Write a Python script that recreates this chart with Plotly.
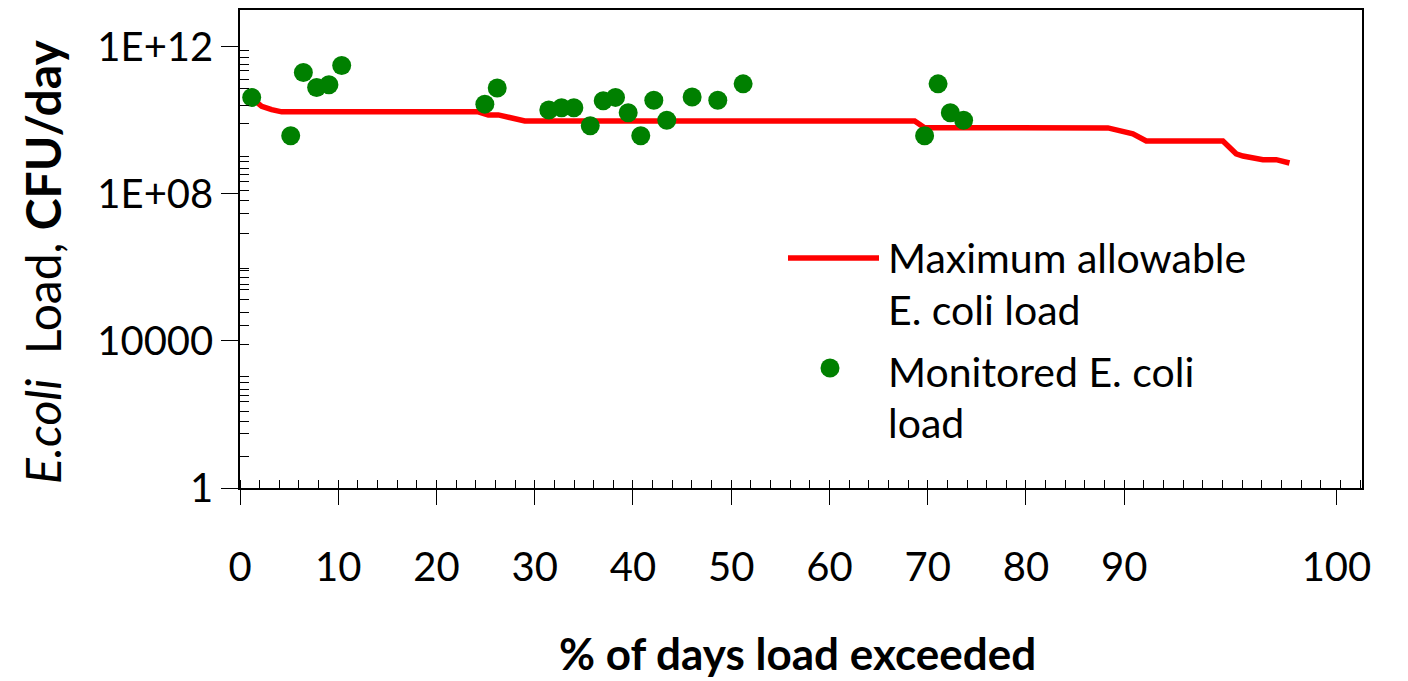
import plotly.graph_objects as go

# ---- data ----
line_x = [1.19, 2.21, 3.22, 4.24, 24.25, 25.27, 26.29, 28.99, 68.67, 69.68,
          88.34, 90.88, 92.24, 100.04, 101.39, 102.08, 104.11, 105.47, 106.82]
line_y = [4.0e10, 2.4e10, 1.95e10, 1.7e10, 1.7e10, 1.4e10, 1.4e10, 9.6e9, 9.6e9, 6.3e9,
          6.2e9, 4.3e9, 2.75e9, 2.75e9, 1.23e9, 1.07e9, 8.5e8, 8.5e8, 6.9e8]

dot_x = [1.19, 5.16, 6.45, 7.80, 9.05, 10.35, 24.92, 26.18, 31.43, 32.73,
         33.98, 35.65, 36.97, 38.22, 39.51, 40.79, 42.12, 43.44, 46.02, 48.63,
         51.21, 69.68, 71.05, 72.30, 73.65]
dot_y = [4.2e10, 3.8e9, 2.0e11, 7.8e10, 9.3e10, 3.1e11, 2.75e10, 7.6e10, 1.9e10, 2.2e10,
         2.2e10, 7.1e9, 3.4e10, 4.2e10, 1.6e10, 3.8e9, 3.5e10, 1.0e10, 4.3e10, 3.5e10,
         9.8e10, 3.8e9, 9.8e10, 1.6e10, 1.0e10]

# tick positions (the "100" label sits near the right edge)
x_tickvals = [0, 10, 20, 30, 40, 50, 60, 70, 80, 90, 111.6]
x_ticktext = ["0", "10", "20", "30", "40", "50", "60", "70", "80", "90", "100"]
y_tickvals = [1, 1e4, 1e8, 1e12]
y_ticktext = ["1", "10000", "1E+08", "1E+12"]
y_minor_exp = [11.90, 11.71, 11.53, 11.35, 11.12, 10.86, 10.40, 9.90, 9.01, 8.88,
               8.70, 8.52, 8.33, 8.08, 7.81, 7.46, 6.93, 5.96, 5.91, 5.72, 5.54,
               5.39, 5.12, 4.77, 4.42, 3.90, 3.03, 2.86, 2.68, 2.51, 2.35, 2.07,
               1.82, 1.47, 0.85]
y_minor_vals = [10 ** e for e in y_minor_exp]
x_minor_vals = list(range(0, 116, 2))

series_names = ["Maximum allowable E. coli load", "Monitored E. coli load"]

FONT = "Lato"
RED = "#ff0000"
GREEN = "#008000"

# page body has an 8px default margin: figure is offset by (8, 8)
OFF = 8

fig = go.Figure()
fig.add_trace(go.Scatter(x=line_x, y=line_y, mode="lines", name=series_names[0],
                         line=dict(color=RED, width=5.5), showlegend=False))
fig.add_trace(go.Scatter(x=dot_x, y=dot_y, mode="markers", name=series_names[1],
                         marker=dict(color=GREEN, size=19, line=dict(width=0)),
                         showlegend=False))

fig.update_layout(
    width=1408 - OFF, height=681 - OFF,
    margin=dict(l=240 - OFF, r=46, t=10 - OFF, b=193, autoexpand=False),
    paper_bgcolor="white", plot_bgcolor="white",
    font=dict(family=FONT, size=38, color="black"),
    showlegend=False,
)
fig.update_xaxes(
    range=[0, 114.2], tickmode="array", tickvals=x_tickvals, ticktext=x_ticktext,
    ticks="outside", ticklen=15, tickwidth=1.3, tickcolor="black",
    showline=True, linecolor="black", linewidth=1.5, mirror=True,
    showgrid=False, zeroline=False, ticklabelstandoff=28,
    tickfont=dict(family=FONT, size=40),
    minor=dict(tickvals=x_minor_vals, ticks="inside", ticklen=8, tickwidth=1, tickcolor="black",
               showgrid=False),
)
fig.update_yaxes(
    type="log", range=[0, 13], tickmode="array", tickvals=y_tickvals, ticktext=y_ticktext,
    ticks="outside", ticklen=17, tickwidth=1.3, tickcolor="black",
    showline=True, linecolor="black", linewidth=1.5, mirror=True,
    showgrid=False, zeroline=False, ticklabelstandoff=0,
    tickfont=dict(family=FONT, size=40),
    minor=dict(tickvals=y_minor_vals, ticks="inside", ticklen=9, tickwidth=1, tickcolor="black",
               showgrid=False),
)

# axis titles
fig.add_annotation(text="<b>% of days load exceeded</b>", xref="paper", yref="paper",
                   x=0.497, y=-0.345, showarrow=False, xanchor="center", yanchor="middle",
                   font=dict(family=FONT, size=44))
fig.add_annotation(text="<i>E.coli</i>  Load, <b>CFU/day</b>", xref="paper", yref="paper",
                   x=-0.1755, y=0.473, showarrow=False, textangle=-90,
                   xanchor="center", yanchor="middle", font=dict(family=FONT, size=48))

# legend (drawn manually)
W, H = 1122.0, 478.0
def px(xp):
    return (xp - 240) / W
def py(yp):
    return (488 - yp) / H

fig.add_shape(type="line", xref="paper", yref="paper", x0=px(788), x1=px(879), y0=py(258), y1=py(258),
              line=dict(color=RED, width=5.5))
fig.add_shape(type="circle", xref="paper", yref="paper", xsizemode="pixel", ysizemode="pixel",
              xanchor=px(830), yanchor=py(368), x0=-9.5, x1=9.5, y0=-9.5, y1=9.5,
              fillcolor=GREEN, line=dict(width=0))
legend_lines = ["Maximum allowable", "E. coli load", "Monitored E. coli", "load"]
legend_ys = [257, 309, 371, 422]
for t, yy in zip(legend_lines, legend_ys):
    fig.add_annotation(text=t, xref="paper", yref="paper", x=px(886), y=py(yy),
                       showarrow=False, xanchor="left", yanchor="middle",
                       font=dict(family=FONT, size=41))

fig.write_html("out.html")
